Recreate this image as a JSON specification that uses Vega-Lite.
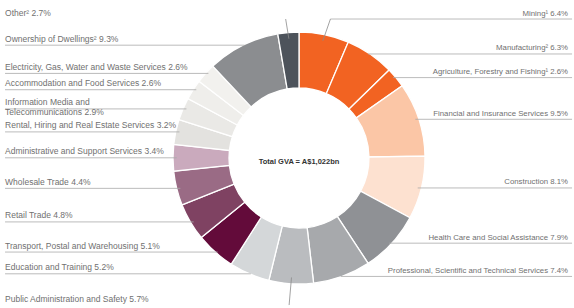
{
  "$schema": "https://vega.github.io/schema/vega-lite/v6.json",
  "width": 550,
  "height": 300,
  "autosize": "none",
  "padding": {"left": 24, "top": 8, "right": 0, "bottom": 0},
  "background": "white",
  "config": {"view": {"stroke": null}},
  "data": {
    "values": [
      {"name": "Mining¹", "value": 6.4},
      {"name": "Manufacturing²", "value": 6.3},
      {"name": "Agriculture, Forestry and Fishing¹", "value": 2.6},
      {"name": "Financial and Insurance Services", "value": 9.5},
      {"name": "Construction", "value": 8.1},
      {"name": "Health Care and Social Assistance", "value": 7.9},
      {"name": "Professional, Scientific and Technical Services", "value": 7.4},
      {"name": "Public Administration and Safety", "value": 5.7},
      {"name": "Education and Training", "value": 5.2},
      {"name": "Transport, Postal and Warehousing", "value": 5.1},
      {"name": "Retail Trade", "value": 4.8},
      {"name": "Wholesale Trade", "value": 4.4},
      {"name": "Administrative and Support Services", "value": 3.4},
      {"name": "Rental, Hiring and Real Estate Services", "value": 3.2},
      {"name": "Information Media and\nTelecommunications", "value": 2.9},
      {"name": "Accommodation and Food Services", "value": 2.6},
      {"name": "Electricity, Gas, Water and Waste Services", "value": 2.6},
      {"name": "Ownership of Dwellings²", "value": 9.3},
      {"name": "Other²", "value": 2.7}
    ]
  },
  "transform": [
    {"window": [{"op": "row_number", "as": "order"}]},
    {"joinaggregate": [{"op": "sum", "field": "value", "as": "total"}]},
    {"window": [{"op": "sum", "field": "value", "as": "cum"}], "sort": [{"field": "order"}], "frame": [null, 0]},
    {"calculate": "2*PI*(datum.cum - datum.value/2)/datum.total", "as": "mid"},
    {"calculate": "sin(datum.mid)", "as": "sx"},
    {"calculate": "cos(datum.mid)", "as": "cy"},
    {"calculate": "datum.sx < 0 ? 'left' : 'right'", "as": "side"},
    {"calculate": "abs(datum.cy) > 0.95", "as": "edge"},
    {"calculate": "datum.cy > 0.95 ? 1.103 : (datum.cy < -0.95 ? -1.167 : datum.cy)", "as": "ly"},
    {"calculate": "datum.edge ? 1.25*datum.sx : 0.97*datum.sx", "as": "kx"},
    {"calculate": "datum.side == 'left' ? -2.333 : datum.kx", "as": "lx0"},
    {"calculate": "datum.side == 'left' ? datum.kx : 2.167", "as": "lx1"},
    {"calculate": "0.95*datum.sx", "as": "px"},
    {"calculate": "0.95*datum.cy", "as": "py"},
    {"calculate": "datum.side == 'left' ? -2.333 : 2.135", "as": "tx"},
    {"calculate": "datum.name + ' ' + format(datum.value, '.1f') + '%'", "as": "label"}
  ],
  "layer": [
    {
      "mark": {"type": "arc", "innerRadius": 70, "outerRadius": 126, "stroke": "white", "strokeWidth": 1.3},
      "encoding": {
        "theta": {"field": "value", "type": "quantitative", "stack": true},
        "order": {"field": "order", "type": "quantitative"},
        "color": {
          "field": "name",
          "type": "nominal",
          "legend": null,
          "scale": {
            "domain": ["Mining¹", "Manufacturing²", "Agriculture, Forestry and Fishing¹", "Financial and Insurance Services", "Construction", "Health Care and Social Assistance", "Professional, Scientific and Technical Services", "Public Administration and Safety", "Education and Training", "Transport, Postal and Warehousing", "Retail Trade", "Wholesale Trade", "Administrative and Support Services", "Rental, Hiring and Real Estate Services", "Information Media and\nTelecommunications", "Accommodation and Food Services", "Electricity, Gas, Water and Waste Services", "Ownership of Dwellings²", "Other²"],
            "range": ["#f26322", "#f26322", "#f26322", "#fbc6a6", "#fde1d0", "#8f9195", "#a7a9ac", "#babcbf", "#d4d7d9", "#630b3a", "#7f4262", "#9a6b85", "#caaabd", "#e3e2df", "#eae9e6", "#efeeeb", "#f2f1ee", "#8b8d90", "#4d535b"]
          }
        }
      }
    },
    {
      "transform": [{"filter": "!(datum.edge && datum.side == 'left')"}],
      "mark": {"type": "rule", "color": "#a9a9a9", "strokeWidth": 0.8},
      "encoding": {
        "x": {"field": "lx0", "type": "quantitative", "scale": {"domain": [-2.1825, 2.1825], "nice": false, "zero": false}, "axis": null},
        "x2": {"field": "lx1"},
        "y": {"field": "ly", "type": "quantitative", "scale": {"domain": [-1.1905, 1.1905], "nice": false, "zero": false}, "axis": null}
      }
    },
    {
      "transform": [{"filter": "datum.edge"}],
      "mark": {"type": "rule", "color": "#8a8a8a", "strokeWidth": 0.8},
      "encoding": {
        "x": {"field": "px", "type": "quantitative", "scale": {"domain": [-2.1825, 2.1825], "nice": false, "zero": false}, "axis": null},
        "x2": {"field": "kx"},
        "y": {"field": "py", "type": "quantitative", "scale": {"domain": [-1.1905, 1.1905], "nice": false, "zero": false}, "axis": null},
        "y2": {"field": "ly"}
      }
    },
    {
      "transform": [{"filter": "datum.side == 'left'"}],
      "mark": {"type": "text", "align": "left", "baseline": "bottom", "dy": -1.5, "font": "Liberation Sans", "fontSize": 8.5, "fill": "#707070", "lineBreak": "\n", "lineHeight": 10},
      "encoding": {
        "x": {"field": "tx", "type": "quantitative", "scale": {"domain": [-2.1825, 2.1825], "nice": false, "zero": false}, "axis": null},
        "y": {"field": "ly", "type": "quantitative", "scale": {"domain": [-1.1905, 1.1905], "nice": false, "zero": false}, "axis": null},
        "text": {"field": "label"}
      }
    },
    {
      "transform": [{"filter": "datum.side == 'right'"}],
      "mark": {"type": "text", "align": "right", "baseline": "bottom", "dy": -1.5, "font": "Liberation Sans", "fontSize": 7.8, "fill": "#707070", "lineBreak": "\n", "lineHeight": 9},
      "encoding": {
        "x": {"field": "tx", "type": "quantitative", "scale": {"domain": [-2.1825, 2.1825], "nice": false, "zero": false}, "axis": null},
        "y": {"field": "ly", "type": "quantitative", "scale": {"domain": [-1.1905, 1.1905], "nice": false, "zero": false}, "axis": null},
        "text": {"field": "label"}
      }
    },
    {
      "transform": [{"filter": "datum.order == 1"}],
      "mark": {"type": "text", "align": "center", "baseline": "middle", "dy": 4, "font": "Liberation Sans", "fontSize": 7.5, "fontWeight": "bold", "fill": "#333333"},
      "encoding": {
        "x": {"datum": 0, "type": "quantitative", "scale": {"domain": [-2.1825, 2.1825], "nice": false, "zero": false}, "axis": null},
        "y": {"datum": 0, "type": "quantitative", "scale": {"domain": [-1.1905, 1.1905], "nice": false, "zero": false}, "axis": null},
        "text": {"value": "Total GVA = A$1,022bn"}
      }
    }
  ]
}
